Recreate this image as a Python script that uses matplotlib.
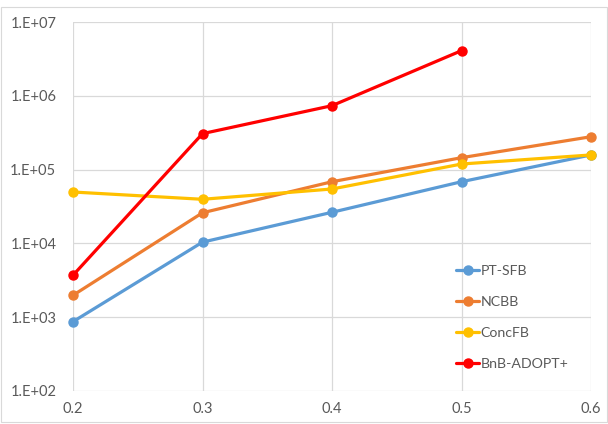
import math
import matplotlib
matplotlib.use("Agg")
import matplotlib.pyplot as plt
from matplotlib.ticker import FixedLocator, FuncFormatter
from matplotlib.patches import Rectangle

plt.rcParams['font.family'] = ['Lato', 'DejaVu Sans']

x = [0.2, 0.3, 0.4, 0.5, 0.6]
pt_sfb = [870, 10400, 26400, 68500, 158000]
ncbb = [1980, 26000, 68500, 145000, 279000]
concfb = [49700, 39600, 54600, 119000, 158000]
bnb_adopt = [3700, 307000, 735000, 4090000]

series = [
    ("PT-SFB", x, pt_sfb, "#5B9BD5"),
    ("NCBB", x, ncbb, "#ED7D31"),
    ("ConcFB", x, concfb, "#FFC000"),
    ("BnB-ADOPT+", x[:len(bnb_adopt)], bnb_adopt, "#FF0000"),
]

fig = plt.figure(figsize=(6.08, 4.24), dpi=100)
ax = fig.add_axes([73 / 608, 1 - 391 / 424, (591 - 73) / 608, (391 - 22) / 424])

# light frame around the whole chart
fig.patches.append(Rectangle((1 / 608, 2 / 424), 606 / 608, 415 / 424,
                             transform=fig.transFigure, fill=False,
                             edgecolor="#D9D9D9", linewidth=0.8))

for name, xs, ys, col in series:
    ax.plot(xs, ys, color=col, linewidth=2.3, marker="o", markersize=6.5,
            label=name, solid_capstyle="round", clip_on=False, zorder=3)

ax.set_yscale("log")
ax.set_ylim(1e2, 1e7)
ax.set_xlim(0.2, 0.6)
ax.xaxis.set_major_locator(FixedLocator(x))
ax.xaxis.set_major_formatter(FuncFormatter(lambda v, p: f"{v:.1f}"))
ax.yaxis.set_major_locator(FixedLocator([1e2, 1e3, 1e4, 1e5, 1e6, 1e7]))
ax.yaxis.set_minor_locator(FixedLocator([]))
ax.yaxis.set_major_formatter(FuncFormatter(lambda v, p: f"1.E+{int(round(math.log10(v))):02d}"))

ax.grid(True, color="#D9D9D9", linewidth=0.9)
ax.set_axisbelow(True)
for s in ax.spines.values():
    s.set_visible(False)
ax.tick_params(length=0, labelsize=10.5, colors="#595959", pad=8)
ax.tick_params(axis="y", pad=12)

leg = ax.legend(loc="lower right", bbox_to_anchor=(0.975, 0.03), frameon=False,
                fontsize=10.2, labelspacing=1.35, handlelength=1.6,
                handletextpad=0.1, borderaxespad=0.3)
for t in leg.get_texts():
    t.set_color("#595959")

fig.savefig("out.png", dpi=100)
